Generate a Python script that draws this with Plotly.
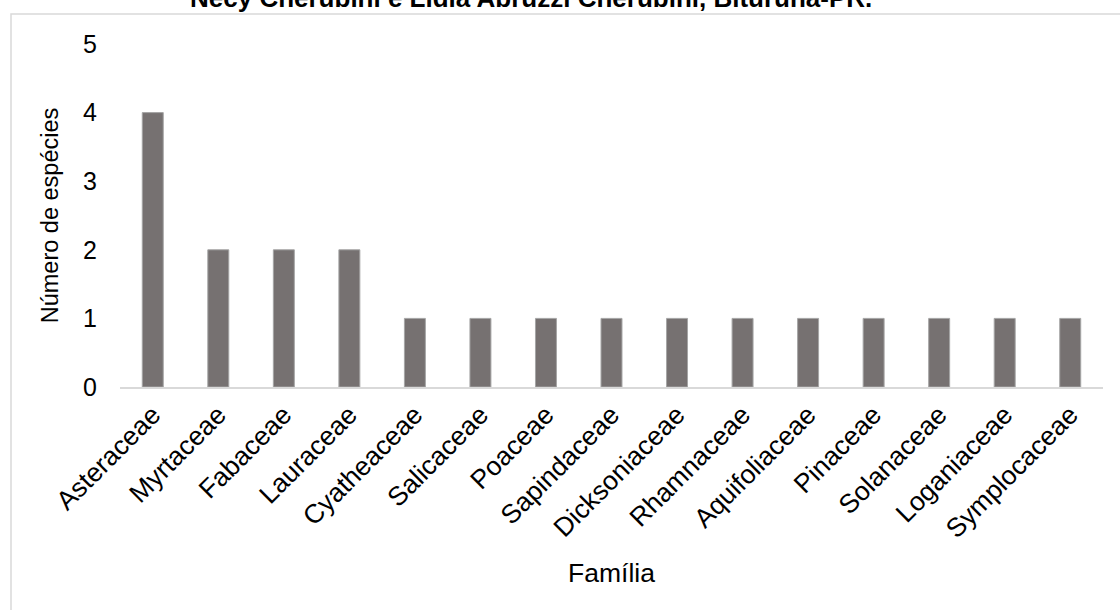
import plotly.graph_objects as go

familias = ["Asteraceae", "Myrtaceae", "Fabaceae", "Lauraceae", "Cyatheaceae",
            "Salicaceae", "Poaceae", "Sapindaceae", "Dicksoniaceae", "Rhamnaceae",
            "Aquifoliaceae", "Pinaceae", "Solanaceae", "Loganiaceae", "Symplocaceae"]
especies = [4, 2, 2, 2, 1, 1, 1, 1, 1, 1, 1, 1, 1, 1, 1]
y_ticks = [0, 1, 2, 3, 4, 5]

W, H = 1120, 610
L, R, T, B = 120, 17, 44, 223
pw, ph = W - L - R, H - T - B

font = "Liberation Sans, Arial, sans-serif"

fig = go.Figure(go.Bar(
    x=familias, y=especies,
    marker=dict(color="#767171", line=dict(color="#a5a5a5", width=1)),
))

fig.update_layout(
    width=W, height=H,
    margin=dict(l=L, r=R, t=T, b=B),
    paper_bgcolor="white", plot_bgcolor="white",
    bargap=0.68,
    showlegend=False,
    font=dict(family=font, color="#000000", size=24),
    xaxis=dict(
        showline=True, linecolor="#d9d9d9", linewidth=1.5,
        showgrid=False, ticks="", tickangle=-45,
        tickfont=dict(size=26.5),
        title=dict(text="Família", font=dict(size=26.5), standoff=21),
    ),
    yaxis=dict(
        range=[0, 5], tickvals=y_ticks, showgrid=False, showline=False,
        zeroline=False, ticks="", ticklabelstandoff=22,
        tickfont=dict(size=25),
        title=dict(text="Número de espécies", font=dict(size=23.5), standoff=17),
    ),
    annotations=[dict(
        text="<b>Necy Cherubini e Lidia Abruzzi Cherubini, Bituruna-PR.</b>",
        xref="paper", yref="paper",
        x=(531 - L) / pw, y=(H - B - 15) / ph,
        xanchor="center", yanchor="bottom", showarrow=False,
        font=dict(size=26, family=font, color="#000000"),
    )],
    shapes=[dict(
        type="rect", xref="paper", yref="paper",
        x0=(11 - L) / pw, x1=(W + 20 - L) / pw,
        y0=-(B + 20) / ph, y1=(H - B - 14) / ph,
        line=dict(color="#d9d9d9", width=1.5), fillcolor="rgba(0,0,0,0)",
        layer="below",
    )],
)

fig.write_html("out.html")
